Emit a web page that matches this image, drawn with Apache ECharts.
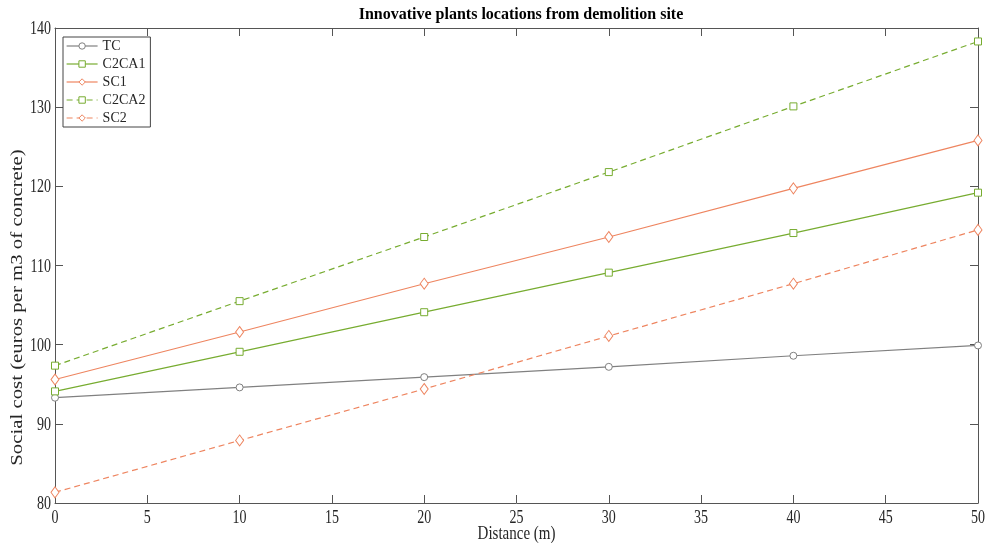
<!DOCTYPE html>
<html><head><meta charset="utf-8">
<script src="https://cdn.jsdelivr.net/npm/echarts@6/dist/echarts.min.js"></script>
<style>html,body{margin:0;padding:0;background:#fff}#c{width:987px;height:545px}</style>
</head><body><div id="c"></div>
<script>
const distances = [0, 10, 20, 30, 40, 50];
const TC = [93.3, 94.6, 95.9, 97.2, 98.6, 99.9];
const C2CA1 = [94.1, 99.1, 104.1, 109.1, 114.1, 119.2];
const SC1 = [95.6, 101.6, 107.7, 113.6, 119.75, 125.8];
const C2CA2 = [97.35, 105.5, 113.6, 121.8, 130.1, 138.3];
const SC2 = [81.35, 87.9, 94.4, 101.1, 107.7, 114.5];
const seriesNames = ['TC', 'C2CA1', 'SC1', 'C2CA2', 'SC2'];
const xTicks = [0, 5, 10, 15, 20, 25, 30, 35, 40, 45, 50];
const yTicks = [80, 90, 100, 110, 120, 130, 140];
const xTitle = 'Distance (m)';
const yTitle = 'Social cost (euros per m3 of concrete)';

const font = 'Liberation Serif';
const axisColor = '#555';
const textColor = '#262626';
const gray = '#808080', green = '#77AC30', orange = '#EE8560';

function mk(name, data, color, symbol, dashed) {
  return {
    name, type: 'line', data: distances.map((d, i) => [d, data[i]]),
    symbol, symbolSize: symbol === 'diamond' ? [8, 11] : 7,
    showAllSymbol: true,
    itemStyle: { color: '#fff', borderColor: color, borderWidth: 1 },
    lineStyle: { color, width: 1.2, type: dashed ? [6, 4] : 'solid' },
    emphasis: { disabled: true },
    animation: false, z: 3
  };
}

const chart = echarts.init(document.getElementById('c'));
const baseAxis = {
  axisLine: { show: true, onZero: false, lineStyle: { color: axisColor, width: 1 } },
  axisTick: { show: true, inside: true, length: 8, lineStyle: { color: axisColor } },
  axisLabel: { show: false },
  splitLine: { show: false }
};
chart.setOption({
  backgroundColor: '#fff',
  animation: false,
  title: {
    text: 'Innovative plants locations from demolition site',
    left: 516, top: 2, textAlign: 'center',
    textStyle: { fontFamily: font, fontSize: 16, fontWeight: 'bold', color: '#000' }
  },
  grid: { left: 55, right: 9, top: 28, bottom: 42, containLabel: false, outerBoundsMode: 'none' },
  legend: {
    data: seriesNames, orient: 'vertical', left: 63, top: 37,
    backgroundColor: '#fff', borderColor: '#444', borderWidth: 1,
    padding: [2, 5, 2, 3], itemGap: 4, itemWidth: 31, itemHeight: 8,
    lineStyle: { width: 1.2 },
    itemStyle: { borderWidth: 1 },
    textStyle: { fontFamily: font, fontSize: 14, color: textColor, lineHeight: 14 }
  },
  xAxis: [
    Object.assign({}, baseAxis, { type: 'value', min: 0, max: 50, interval: 5, position: 'bottom' }),
    Object.assign({}, baseAxis, { type: 'value', min: 0, max: 50, interval: 5, position: 'top' })
  ],
  yAxis: [
    Object.assign({}, baseAxis, { type: 'value', min: 80, max: 140, interval: 10, position: 'left' }),
    Object.assign({}, baseAxis, { type: 'value', min: 80, max: 140, interval: 10, position: 'right' })
  ],
  series: [
    mk('TC', TC, gray, 'circle', false),
    mk('C2CA1', C2CA1, green, 'rect', false),
    mk('SC1', SC1, orange, 'diamond', false),
    mk('C2CA2', C2CA2, green, 'rect', true),
    mk('SC2', SC2, orange, 'diamond', true)
  ]
});

// Axis texts (stretched vertically like the reference)
const tickFont = '14px "' + font + '"';
const els = [];
const y0 = chart.convertToPixel({ yAxisIndex: 0 }, 80);
const yTop = chart.convertToPixel({ yAxisIndex: 0 }, 140);
const x0 = chart.convertToPixel({ xAxisIndex: 0 }, 0);
const x1 = chart.convertToPixel({ xAxisIndex: 0 }, 50);
xTicks.forEach(v => {
  els.push({
    type: 'text', x: chart.convertToPixel({ xAxisIndex: 0 }, v), y: y0 + 5,
    scaleY: 1.4, silent: true,
    style: { text: String(v), x: 0, y: 0, align: 'center', verticalAlign: 'top', font: tickFont, fill: textColor }
  });
});
yTicks.forEach(v => {
  els.push({
    type: 'text', x: x0 - 4, y: chart.convertToPixel({ yAxisIndex: 0 }, v) + 1,
    scaleY: 1.4, silent: true,
    style: { text: String(v), x: 0, y: 0, align: 'right', verticalAlign: 'middle', font: tickFont, fill: textColor }
  });
});
els.push({
  type: 'text', x: (x0 + x1) / 2, y: y0 + 22, scaleY: 1.25, silent: true,
  style: { text: xTitle, x: 0, y: 0, align: 'center', verticalAlign: 'top', font: '15px "' + font + '"', fill: textColor }
});
els.push({
  type: 'text', x: 18, y: (y0 + yTop) / 2 + 42, rotation: Math.PI / 2, scaleX: 1.3, silent: true,
  style: { text: yTitle, x: 0, y: 0, align: 'center', verticalAlign: 'middle', font: '16px "' + font + '"', fill: textColor }
});
chart.setOption({ graphic: { elements: els } });
</script></body></html>
